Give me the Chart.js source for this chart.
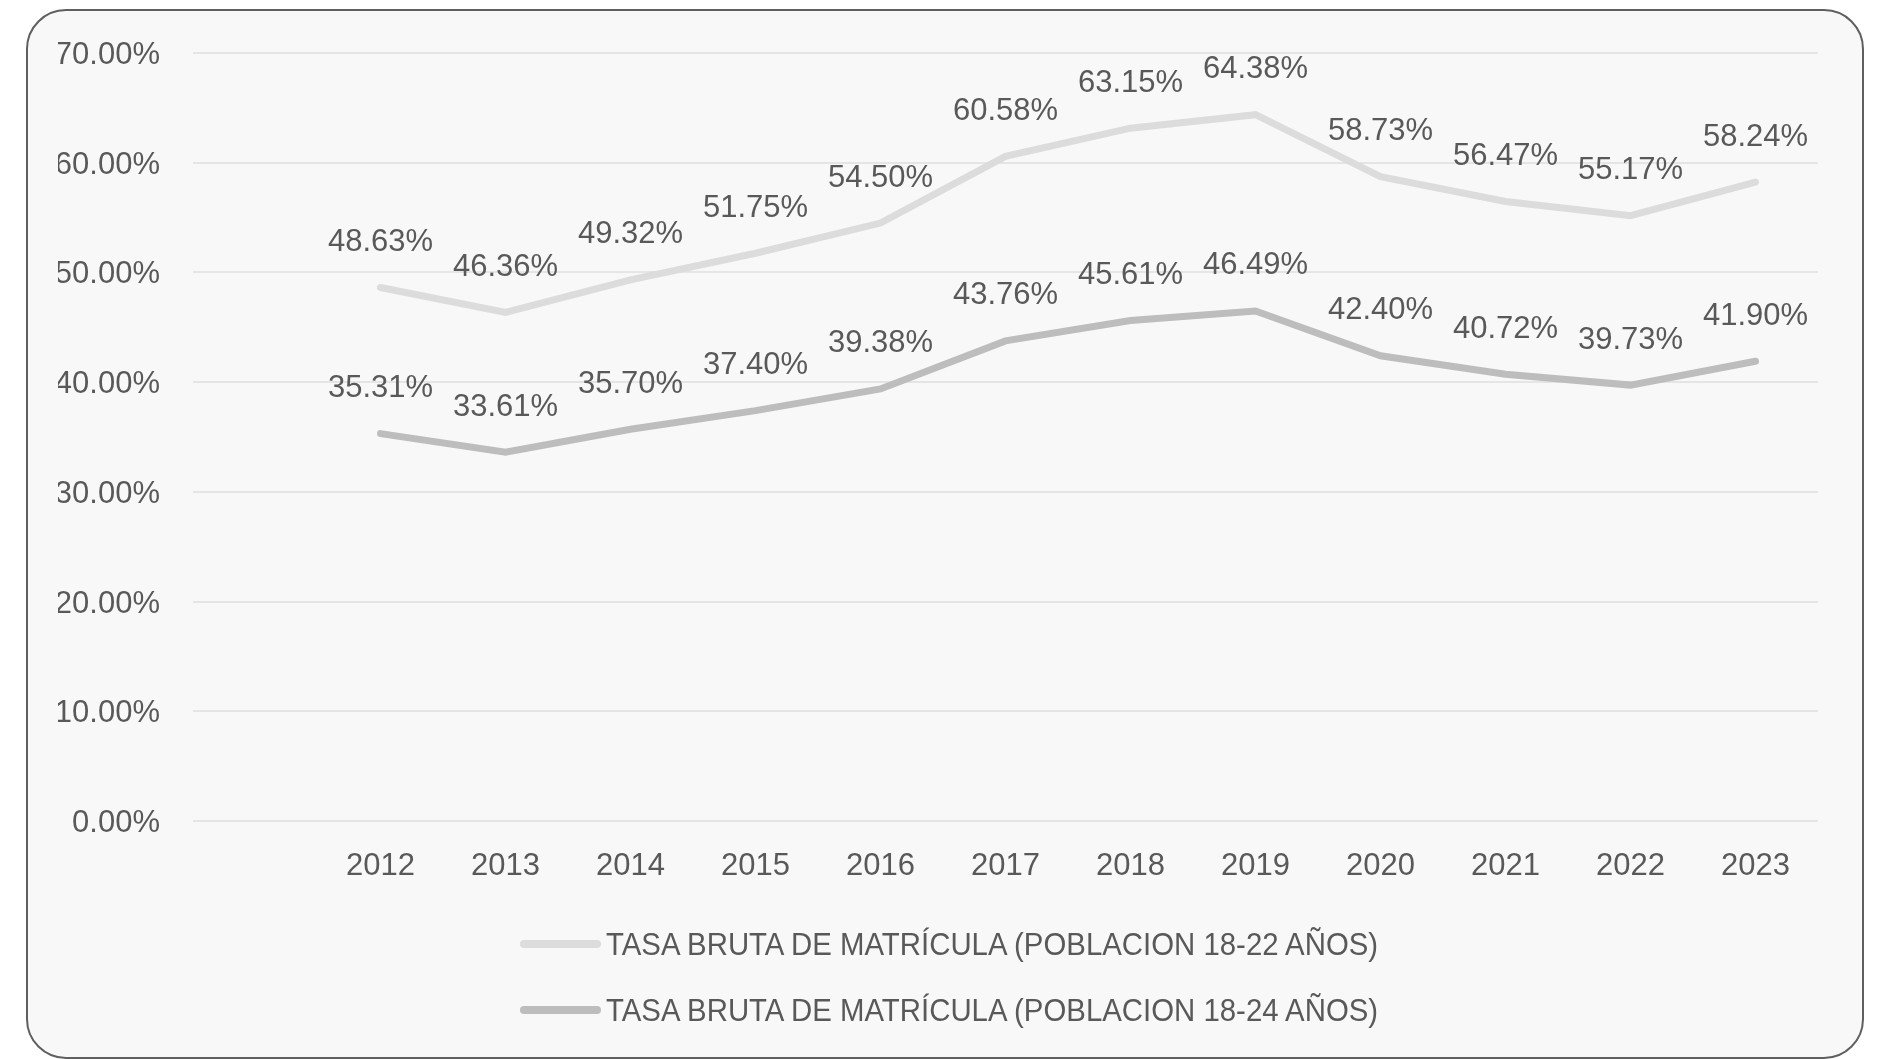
<!DOCTYPE html>
<html>
<head>
<meta charset="utf-8">
<script src="https://cdn.jsdelivr.net/npm/chart.js@4.4.1/dist/chart.umd.min.js"></script>
<style>
    html, body { margin: 0; padding: 0; background: #ffffff; }
    body { width: 1883px; height: 1059px; position: relative; overflow: hidden; font-family: "Liberation Sans", Arial, sans-serif; }
    .card {
        position: absolute; left: 26px; top: 9px; width: 1838px; height: 1050px;
        box-sizing: border-box; border: 2px solid #5f5f5f; border-radius: 40px; background: #f8f8f8;
    }
    #chartWrap { position: absolute; left: 0; top: 0; width: 1883px; height: 1059px; }
    .legend-row { position: absolute; left: 520px; height: 40px; display: flex; align-items: center; }
    .legend-swatch { width: 81px; height: 8px; border-radius: 4px; }
    .legend-text {
        margin-left: 5px; font-size: 32px; color: #595959; white-space: nowrap;
        transform: scaleX(0.918); transform-origin: left center;
    }
</style>
</head>
<body>
<div class="card"></div>
<div id="chartWrap"><canvas id="rateChart" width="1883" height="1059"></canvas></div>
<div id="legend"></div>
<script>
// Years shown on the x axis (the source chart keeps an empty first category)
const years = ['2012', '2013', '2014', '2015', '2016', '2017', '2018', '2019', '2020', '2021', '2022', '2023'];

const seriesNames = [
    'TASA BRUTA DE MATRÍCULA (POBLACION 18-22 AÑOS)',
    'TASA BRUTA DE MATRÍCULA (POBLACION 18-24 AÑOS)'
];

// Gross enrolment rate, %
const rate1822 = [48.63, 46.36, 49.32, 51.75, 54.50, 60.58, 63.15, 64.38, 58.73, 56.47, 55.17, 58.24];
const rate1824 = [35.31, 33.61, 35.70, 37.40, 39.38, 43.76, 45.61, 46.49, 42.40, 40.72, 39.73, 41.90];

const yTicks = [0, 10, 20, 30, 40, 50, 60, 70];

const textColor = '#595959';
const baseFont = '"Liberation Sans", Arial, sans-serif';

document.addEventListener('DOMContentLoaded', function () {
    const ctx = document.getElementById('rateChart').getContext('2d');

    // Draw the value above every point
    const valueLabels = {
        id: 'valueLabels',
        afterDatasetsDraw(chart) {
            const c = chart.ctx;
            c.save();
            c.font = '31px ' + baseFont;
            c.fillStyle = textColor;
            c.textAlign = 'center';
            c.textBaseline = 'middle';
            chart.data.datasets.forEach((ds, i) => {
                chart.getDatasetMeta(i).data.forEach((pt, j) => {
                    const v = ds.data[j];
                    if (v === null || v === undefined) return;
                    c.fillText(v.toFixed(2) + '%', pt.x, pt.y - 45);
                });
            });
            c.restore();
        }
    };

    const chart = new Chart(ctx, {
        type: 'line',
        data: {
            labels: [''].concat(years),
            datasets: [{
                label: seriesNames[0],
                data: [null].concat(rate1822),
                borderColor: '#dcdcdc',
                backgroundColor: '#dcdcdc',
                borderWidth: 7,
                borderCapStyle: 'round',
                pointRadius: 0,
                tension: 0
            }, {
                label: seriesNames[1],
                data: [null].concat(rate1824),
                borderColor: '#bdbdbd',
                backgroundColor: '#bdbdbd',
                borderWidth: 7,
                borderCapStyle: 'round',
                pointRadius: 0,
                tension: 0
            }]
        },
        options: {
            responsive: false,
            animation: false,
            layout: { padding: { left: 58, right: 65, top: 53, bottom: 168 } },
            plugins: {
                legend: { display: false },
                tooltip: { enabled: false }
            },
            scales: {
                x: {
                    offset: true,
                    grid: { display: false, drawTicks: false },
                    border: { display: false },
                    ticks: { color: textColor, font: { family: baseFont, size: 31 }, padding: 27, maxRotation: 0 },
                    afterFit(scale) { scale.height = 70; }
                },
                y: {
                    min: 0,
                    max: 70,
                    afterBuildTicks(scale) { scale.ticks = yTicks.map(v => ({ value: v })); },
                    grid: { color: '#e5e5e5', lineWidth: 2, drawTicks: false },
                    border: { display: false },
                    ticks: {
                        color: textColor,
                        font: { family: baseFont, size: 31 },
                        padding: 33,
                        labelOffset: 2.5,
                        callback: v => v.toFixed(2) + '%'
                    },
                    afterFit(scale) { scale.width = 135; }
                }
            }
        },
        plugins: [valueLabels]
    });

    // Legend: two stacked rows like the original
    const legend = document.getElementById('legend');
    const rowCenters = [944, 1010];
    chart.data.datasets.forEach((ds, i) => {
        const row = document.createElement('div');
        row.className = 'legend-row';
        row.style.top = (rowCenters[i] - 20) + 'px';
        const sw = document.createElement('div');
        sw.className = 'legend-swatch';
        sw.style.background = ds.borderColor;
        const tx = document.createElement('span');
        tx.className = 'legend-text';
        tx.textContent = ds.label;
        row.appendChild(sw);
        row.appendChild(tx);
        legend.appendChild(row);
    });
});
</script>
</body>
</html>
